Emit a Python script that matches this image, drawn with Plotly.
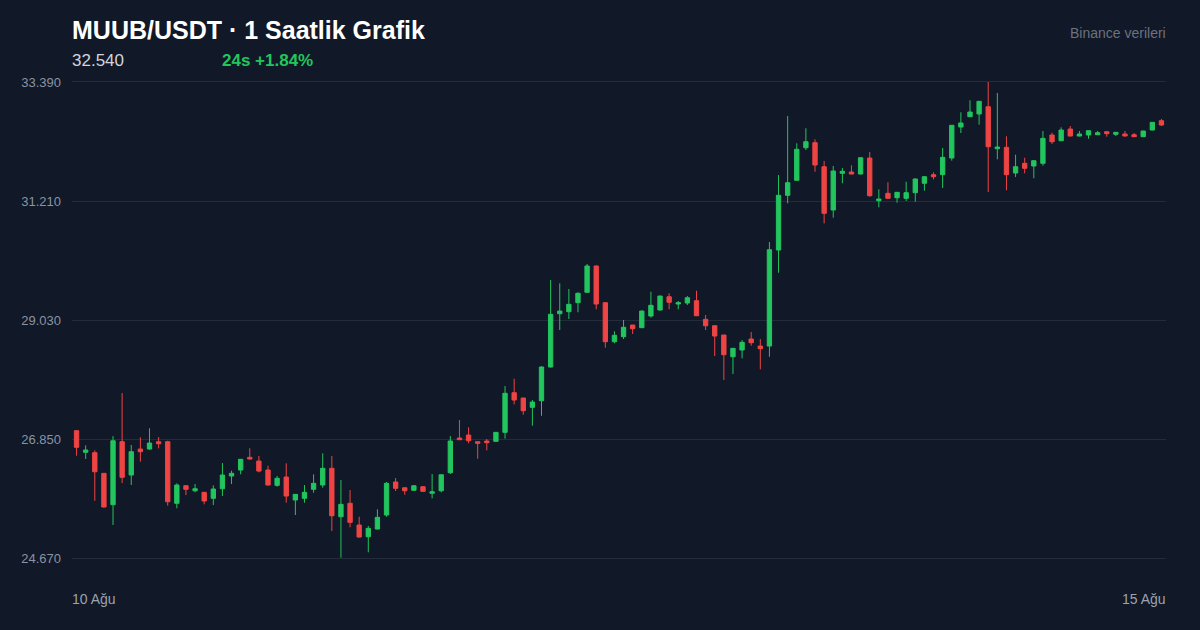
import plotly.graph_objects as go

# hourly candles, 10 Ağu -> 15 Ağu (120 bars)
opens = [27.002, 26.606, 26.599, 26.221, 25.646, 26.800, 26.190, 26.666, 26.666, 26.800,
         26.800, 25.672, 25.994, 25.902, 25.873, 25.763, 25.939, 26.172, 26.282, 26.514,
         26.446, 26.282, 26.001, 26.153, 25.732, 25.763, 25.928, 26.007, 26.313, 25.426,
         25.672, 25.274, 25.060, 25.201, 25.457, 26.062, 25.957, 25.910, 25.976, 25.855,
         25.902, 26.232, 26.868, 26.923, 26.800, 26.813, 26.807, 26.972, 27.698, 27.601,
         27.430, 27.551, 28.169, 29.145, 29.182, 29.347, 29.537, 30.019, 29.347, 28.632,
         28.724, 28.938, 28.889, 29.103, 29.213, 29.456, 29.323, 29.341, 29.383, 29.042,
         28.925, 28.755, 28.357, 28.480, 28.682, 28.553, 28.553, 30.312, 31.314, 31.589,
         32.186, 32.278, 31.838, 31.045, 31.717, 31.741, 31.704, 31.997, 31.215, 31.351,
         31.270, 31.259, 31.362, 31.534, 31.692, 31.692, 31.997, 32.565, 32.754, 32.804,
         32.937, 32.168, 32.193, 31.723, 31.900, 31.851, 31.900, 32.419, 32.314, 32.529,
         32.400, 32.419, 32.424, 32.479, 32.432, 32.437, 32.424, 32.388, 32.510, 32.681]
highs = [27.002, 26.734, 26.642, 26.227, 26.904, 27.692, 26.740, 26.881, 27.046, 26.886,
         26.818, 26.038, 25.998, 26.025, 25.879, 26.001, 26.410, 26.269, 26.483, 26.679,
         26.538, 26.360, 26.172, 26.404, 25.842, 26.007, 26.203, 26.588, 26.538, 26.098,
         25.915, 25.426, 25.256, 25.562, 26.062, 26.135, 25.961, 25.998, 25.979, 26.208,
         26.199, 26.904, 27.198, 27.064, 26.804, 26.850, 26.978, 27.820, 27.954, 27.601,
         27.564, 28.178, 29.762, 29.702, 29.598, 29.537, 30.056, 30.028, 29.359, 28.823,
         29.030, 28.938, 29.204, 29.548, 29.475, 29.519, 29.378, 29.469, 29.566, 29.121,
         28.929, 28.755, 28.517, 28.663, 28.810, 28.682, 30.459, 31.686, 32.767, 32.267,
         32.542, 32.340, 31.942, 31.851, 31.814, 31.864, 32.007, 32.107, 31.424, 31.552,
         31.375, 31.563, 31.622, 31.659, 31.736, 32.181, 32.602, 32.835, 33.055, 33.042,
         33.390, 33.188, 32.395, 32.058, 32.003, 31.952, 32.492, 32.461, 32.560, 32.584,
         32.492, 32.501, 32.492, 32.483, 32.474, 32.492, 32.455, 32.498, 32.657, 32.712]
lows = [26.544, 26.483, 25.719, 25.595, 25.274, 26.043, 26.007, 26.434, 26.657, 26.679,
        25.628, 25.580, 25.824, 25.873, 25.653, 25.640, 25.805, 26.025, 26.203, 26.474,
        26.239, 25.998, 25.976, 25.683, 25.457, 25.683, 25.866, 25.957, 25.164, 24.675,
        25.232, 25.045, 24.774, 25.192, 25.426, 25.897, 25.829, 25.906, 25.888, 25.763,
        25.873, 26.208, 26.831, 26.771, 26.489, 26.642, 26.804, 26.855, 27.485, 27.295,
        27.093, 27.276, 28.160, 28.846, 29.048, 29.171, 29.533, 29.226, 28.522, 28.603,
        28.682, 28.773, 28.883, 29.072, 29.205, 29.226, 29.226, 29.304, 29.103, 28.846,
        28.370, 27.930, 28.040, 28.328, 28.559, 28.126, 28.357, 29.896, 31.167, 31.585,
        32.144, 31.746, 30.801, 30.904, 31.534, 31.699, 31.699, 31.288, 31.094, 31.256,
        31.179, 31.210, 31.197, 31.398, 31.607, 31.448, 31.948, 32.455, 32.749, 32.608,
        31.375, 31.974, 31.406, 31.649, 31.717, 31.626, 31.856, 32.254, 32.309, 32.395,
        32.395, 32.351, 32.419, 32.388, 32.400, 32.395, 32.382, 32.382, 32.505, 32.584]
closes = [26.698, 26.648, 26.250, 25.604, 26.818, 26.148, 26.617, 26.617, 26.776, 26.763,
          25.701, 26.007, 25.928, 25.939, 25.714, 25.934, 26.190, 26.221, 26.478, 26.483,
          26.263, 26.007, 26.130, 25.805, 25.836, 25.873, 26.038, 26.313, 25.444, 25.653,
          25.323, 25.054, 25.213, 25.415, 26.038, 25.946, 25.902, 25.994, 25.891, 25.884,
          26.195, 26.813, 26.837, 26.818, 26.771, 26.782, 26.972, 27.687, 27.564, 27.368,
          27.527, 28.169, 29.134, 29.194, 29.317, 29.519, 30.019, 29.323, 28.632, 28.749,
          28.896, 28.870, 29.194, 29.299, 29.469, 29.354, 29.347, 29.438, 29.108, 28.925,
          28.736, 28.394, 28.511, 28.621, 28.614, 28.504, 30.317, 31.314, 31.545, 32.157,
          32.296, 31.869, 30.984, 31.759, 31.754, 31.704, 32.003, 31.307, 31.246, 31.259,
          31.369, 31.362, 31.613, 31.655, 31.655, 32.010, 32.597, 32.639, 32.840, 33.036,
          32.205, 32.199, 31.692, 31.838, 31.809, 31.948, 32.358, 32.296, 32.510, 32.400,
          32.437, 32.498, 32.461, 32.443, 32.468, 32.400, 32.388, 32.492, 32.651, 32.602]

y_ticks = [24.670, 26.850, 29.030, 31.210, 33.390]
y_labels = ["24.670", "26.850", "29.030", "31.210", "33.390"]
date_labels = ["10 Ağu", "15 Ağu"]

BG = "#111827"
GREEN = "#22c55e"
RED = "#ef4444"
GRID = "#232c3b"
FONT = "Liberation Sans, Arial, sans-serif"

bars = list(range(len(opens)))

fig = go.Figure(go.Candlestick(
    x=bars, open=opens, high=highs, low=lows, close=closes,
    increasing=dict(line=dict(color=GREEN, width=1), fillcolor=GREEN),
    decreasing=dict(line=dict(color=RED, width=1), fillcolor=RED),
    whiskerwidth=0,
    hoverinfo="skip",
))

fig.update_layout(
    width=1200, height=630,
    margin=dict(l=72, r=34, t=82, b=72),
    paper_bgcolor=BG, plot_bgcolor=BG,
    font=dict(family=FONT, color="#9ca3af"),
    showlegend=False,
    boxgap=0.32,
    # showline+mirror gives the top/bottom grid lines at the range edges
    xaxis=dict(range=[-0.5, len(opens) - 0.5], showgrid=False, zeroline=False,
               showticklabels=False, rangeslider=dict(visible=False), fixedrange=True,
               showline=True, mirror=True, linecolor=GRID, linewidth=1),
    yaxis=dict(range=[y_ticks[0], y_ticks[-1]], tickvals=y_ticks, ticktext=y_labels,
               gridcolor=GRID, gridwidth=1, zeroline=False, showline=False, fixedrange=True,
               ticks="", ticklabelstandoff=10, tickfont=dict(size=13, color="#8b93a3")),
)

ann = [
    dict(text="<b>MUUB/USDT · 1 Saatlik Grafik</b>", x=0, y=1.109, xshift=-2,
         font=dict(size=25, color="#ffffff")),
    dict(text="32.540", x=0, y=1.046, xshift=-2, font=dict(size=17, color="#d1d5db")),
    dict(text="<b>24s +1.84%</b>", x=0.1371, y=1.046, xshift=-2,
         font=dict(size=17, color=GREEN)),
    dict(text="Binance verileri", x=1, y=1.103, xanchor="right", xshift=2,
         font=dict(size=14, color="#6b7280")),
    dict(text=date_labels[0], x=0, y=-0.086, xshift=-2, font=dict(size=14, color="#9ca3af")),
    dict(text=date_labels[1], x=1, y=-0.086, xanchor="right", xshift=2,
         font=dict(size=14, color="#9ca3af")),
]
for a in ann:
    a.setdefault("xanchor", "left")
    fig.add_annotation(xref="paper", yref="paper", yanchor="middle", showarrow=False, **a)

fig.write_html("out.html", config={"displayModeBar": False},
               post_script="document.body.style.margin='0';"
               "document.body.style.background='" + BG + "';")
